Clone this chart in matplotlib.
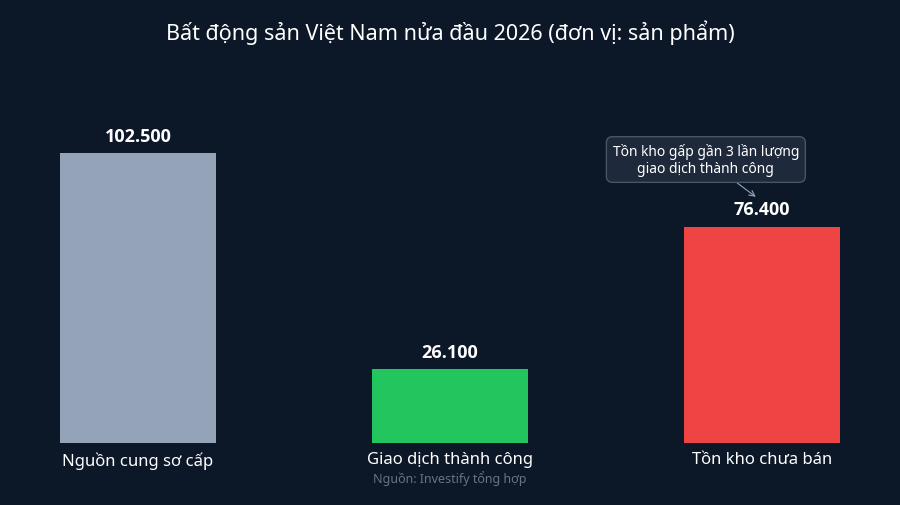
import matplotlib
matplotlib.use("Agg")
import matplotlib.pyplot as plt

categories = ["Nguồn cung sơ cấp", "Giao dịch thành công", "Tồn kho chưa bán"]
values = [102500, 26100, 76400]
value_labels = ["102.500", "26.100", "76.400"]
colors = ["#94a3b8", "#22c55e", "#ef4444"]

plt.rcParams['font.family'] = ['Noto Sans', 'DejaVu Sans']
bg = "#0c1727"
fig = plt.figure(figsize=(9, 5.06), dpi=100, facecolor=bg)
ax = fig.add_axes([40/900, 62/506, 820/900, 363/506], facecolor=bg)
x = list(range(len(values)))
ax.bar(x, values, width=0.5, color=colors)
for xi, v, lab in zip(x, values, value_labels):
    ax.text(xi, v + 3000, lab, ha='center', va='bottom', color='white', fontsize=13,
            fontweight='bold', family=['Open Sans', 'DejaVu Sans'])
ax.set_xlim(-0.314, 2.314)
ax.set_ylim(0, 128300)
ax.set_yticks([])
ax.set_xticks(x)
ax.set_xticklabels(categories, color='white', fontsize=12)
ax.tick_params(axis='x', length=0, pad=6)
for s in ax.spines.values():
    s.set_visible(False)
fig.text(0.5, 1 - 33/506, "Bất động sản Việt Nam nửa đầu 2026 (đơn vị: sản phẩm)", ha='center', va='center', color='white', fontsize=15.5)
fig.text(450/900, 1 - 479/506, "Nguồn: Investify tổng hợp", ha='center', va='center', color='#6b7280', fontsize=9)
ax.annotate("Tồn kho gấp gần 3 lần lượng\ngiao dịch thành công",
            xy=(1.98, values[2] + 10600), xytext=(1.82, values[2] + 23800),
            ha='center', va='center', color='white', fontsize=10,
            bbox=dict(boxstyle='round,pad=0.45', fc='#1e293b', ec='#475569', lw=1),
            arrowprops=dict(arrowstyle='->', color='#94a3b8', lw=0.8, shrinkA=0, shrinkB=0))
fig.savefig("out.png", dpi=100, facecolor=bg)
